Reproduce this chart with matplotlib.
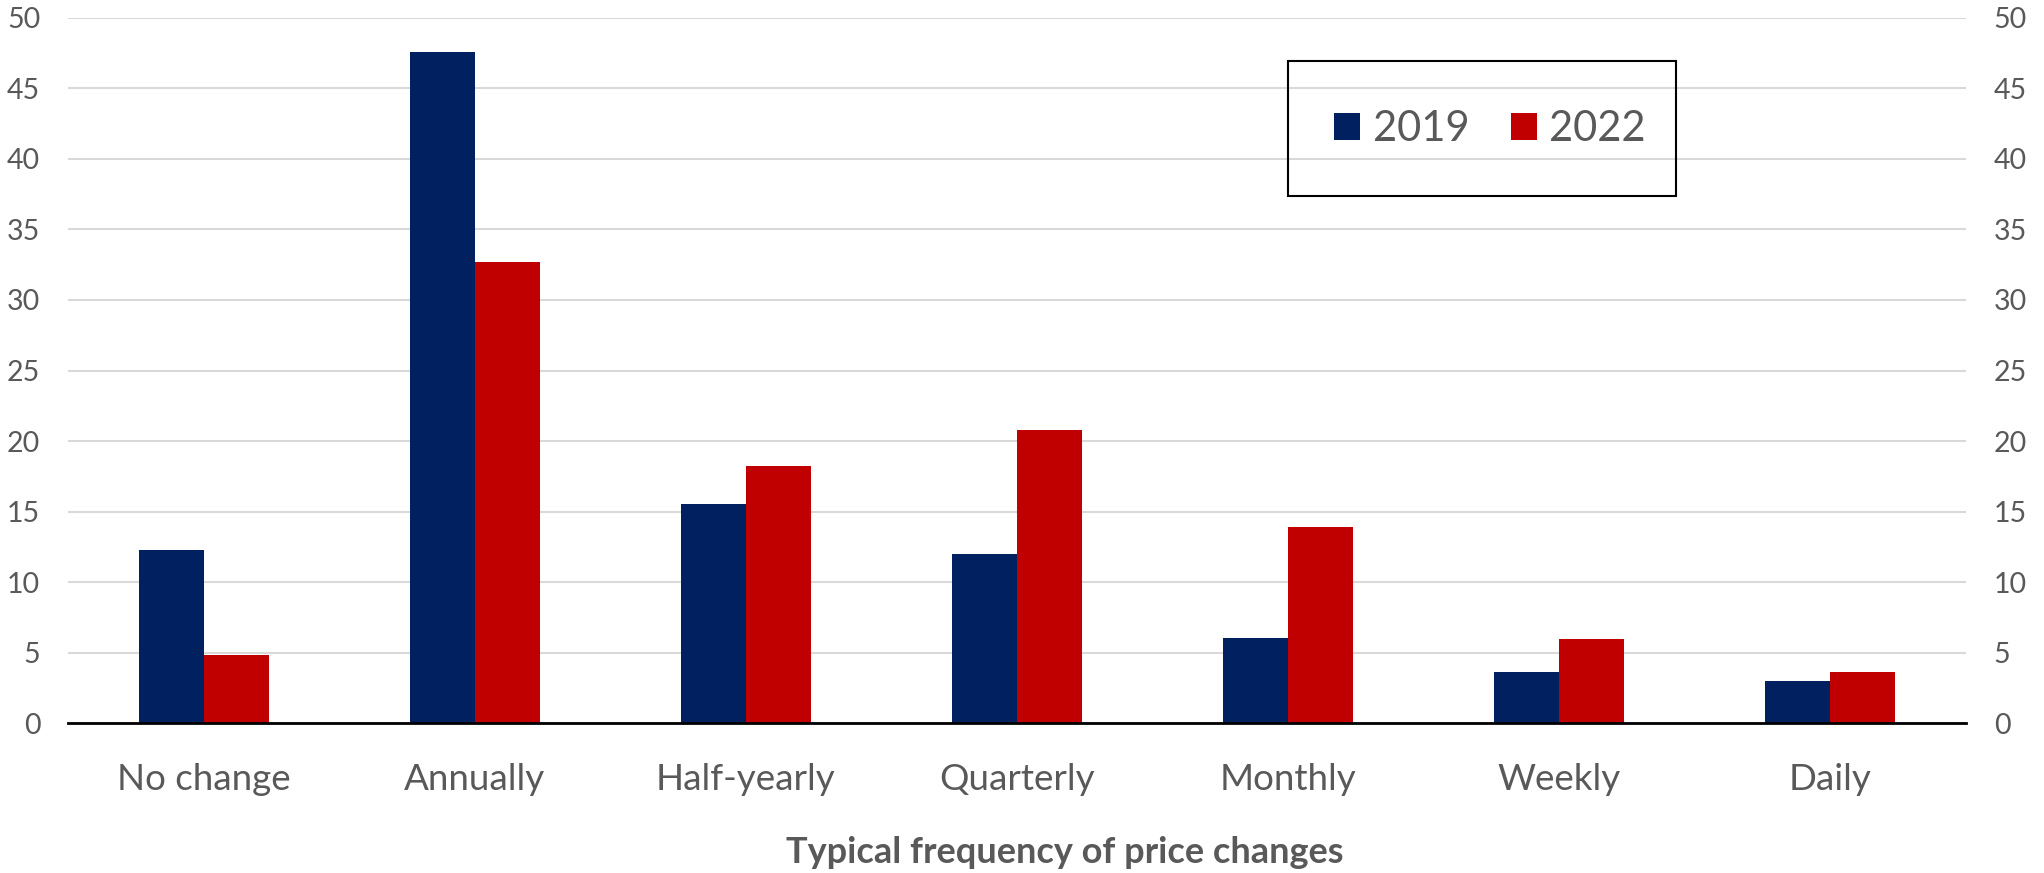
import matplotlib
matplotlib.use('Agg')
import matplotlib.pyplot as plt
from matplotlib.patches import Rectangle
import numpy as np

# 数据
categories = ['No change', 'Annually', 'Half-yearly', 'Quarterly', 'Monthly', 'Weekly', 'Daily']
values_2019 = [12.3, 47.6, 15.5, 12.0, 6.0, 3.6, 3.0]
values_2022 = [4.85, 32.7, 18.2, 20.8, 13.9, 5.95, 3.6]
series_names = ['2019', '2022']
y_ticks = [0, 5, 10, 15, 20, 25, 30, 35, 40, 45, 50]

navy = '#002060'
red = '#C00000'
text_grey = '#595959'

plt.rcParams['font.family'] = ['Lato', 'DejaVu Sans']

fig = plt.figure(figsize=(20.44, 8.73), dpi=100)
ax = fig.add_axes([0.0333, 0.1718, 0.9285, 0.8076])

x = np.arange(len(categories))
w = 0.24
ax.bar(x - w / 2, values_2019, w, color=navy, label=series_names[0], zorder=3)
ax.bar(x + w / 2, values_2022, w, color=red, label=series_names[1], zorder=3)

ax.set_xlim(-0.5, len(categories) - 0.5)
ax.set_ylim(0, 50)
ax.set_yticks(y_ticks)
ax.set_xticks(x)
ax.set_xticklabels(categories)
ax.yaxis.grid(True, color='#D9D9D9', linewidth=1.5, zorder=0)
ax.set_axisbelow(True)

for s in ['top', 'left', 'right']:
    ax.spines[s].set_visible(False)
ax.spines['bottom'].set_color('black')
ax.spines['bottom'].set_linewidth(2)
ax.spines['bottom'].set_zorder(4)

ax.tick_params(axis='x', length=0, pad=29, labelsize=26.5, labelcolor=text_grey)
ax.tick_params(axis='y', length=0, pad=20, labelsize=20.5, labelcolor=text_grey,
               labelright=True)

# 图例（框单独画）
leg = fig.legend(*ax.get_legend_handles_labels(), loc='center',
                 bbox_to_anchor=(0.729, 0.852), ncol=2, fontsize=30, frameon=False,
                 handlelength=0.62, handleheight=0.62, handletextpad=0.3,
                 columnspacing=1.0, borderpad=0, labelcolor=text_grey)
fig.patches.append(Rectangle((0.6301, 0.7755), 0.1898, 0.1546, transform=fig.transFigure,
                             fill=False, edgecolor='black', linewidth=1.5, zorder=5))

fig.text(0.521, 0.0115, 'Typical frequency of price changes', ha='center', va='baseline',
         fontsize=26, fontweight='bold', color=text_grey)

fig.savefig('out.png', dpi=100)
